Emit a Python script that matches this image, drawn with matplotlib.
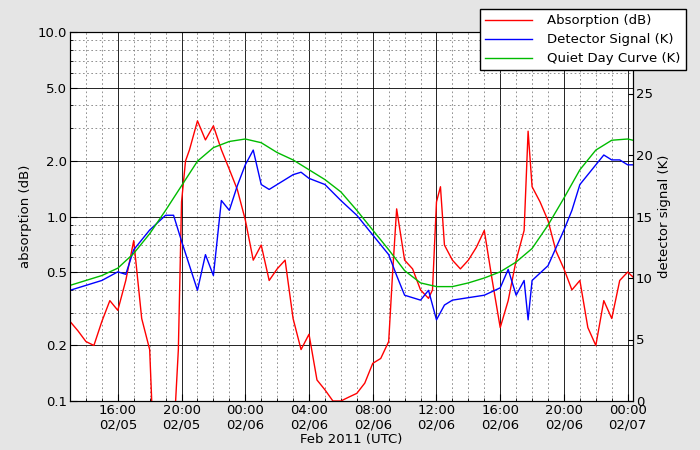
import matplotlib
matplotlib.use("Agg")
import matplotlib.pyplot as plt
import matplotlib.dates as mdates
from matplotlib.ticker import FixedLocator, FixedFormatter, NullFormatter
import numpy as np
import pandas as pd

plt.rcParams["font.size"] = 9.5

# hours since 2011-02-05 00:00
abs_hours = [13, 13.5, 14, 14.5, 15, 15.5, 16, 16.5, 17, 17.5, 18, 18.15, 19.6, 19.8, 20, 20.25, 20.5, 21, 21.5, 22, 22.5, 23, 23.5,
             24, 24.5, 25, 25.5, 26, 26.5, 27, 27.5, 28, 28.5, 29, 29.5, 30, 30.5, 31, 31.5, 32, 32.5, 33, 33.25, 33.5,
             34, 34.5, 35, 35.5, 35.75, 36, 36.25, 36.5, 37, 37.5, 38, 38.5, 39, 39.5, 40, 40.5, 41, 41.5, 41.75,
             42, 42.5, 43, 43.5, 44, 44.5, 45, 45.5, 46, 46.5, 47, 47.5, 48, 48.33]
abs_db = [0.27, 0.24, 0.21, 0.2, 0.27, 0.35, 0.31, 0.45, 0.74, 0.28, 0.19, 0.09, 0.09, 0.19, 1.2, 2.0, 2.3, 3.3, 2.6, 3.1, 2.3, 1.8, 1.4,
          0.96, 0.58, 0.7, 0.45, 0.52, 0.58, 0.28, 0.19, 0.23, 0.13, 0.115, 0.1, 0.1, 0.105, 0.11, 0.125, 0.16, 0.17, 0.21, 0.5,
          1.1, 0.58, 0.52, 0.4, 0.36, 0.4, 1.2, 1.45, 0.7, 0.58, 0.52, 0.58, 0.68, 0.84, 0.45, 0.25, 0.35, 0.58, 0.84, 2.9,
          1.45, 1.2, 0.95, 0.65, 0.52, 0.4, 0.45, 0.25, 0.2, 0.35, 0.28, 0.45, 0.5, 0.47]

sig_hours = [13, 14, 15, 16, 16.5, 17, 18, 19, 19.5, 20, 21, 21.5, 22, 22.5, 23, 23.5, 24, 24.5, 25, 25.5, 26, 27, 27.5, 28,
             29, 30, 31, 32, 33, 33.5, 34, 35, 35.5, 36, 36.5, 37, 38, 39, 40, 40.5, 41, 41.5, 41.75, 42, 43, 44, 44.5,
             45, 46, 46.5, 47, 47.5, 48, 48.33]
sig_k = [9.0, 9.4, 9.8, 10.5, 10.3, 12.3, 13.9, 15.1, 15.1, 13.0, 9.0, 11.9, 10.2, 16.3, 15.5, 17.5, 19.2, 20.4, 17.6, 17.2, 17.6,
         18.4, 18.6, 18.1, 17.6, 16.3, 15.1, 13.5, 11.9, 10.2, 8.6, 8.2, 9.0, 6.6, 7.8, 8.2, 8.4, 8.6, 9.2, 10.7, 8.6, 9.8, 6.6,
         9.8, 11.0, 13.9, 15.5, 17.6, 19.2, 20.0, 19.6, 19.6, 19.2, 19.2]

qdc_hours = list(range(13, 49)) + [48.33]
qdc_k = [9.4, 9.8, 10.2, 10.8, 12.0, 13.6, 15.5, 17.5, 19.5, 20.6, 21.1, 21.3, 21.0, 20.2, 19.6, 18.8, 18.0, 17.0, 15.5,
         13.9, 12.3, 10.6, 9.6, 9.3, 9.3, 9.6, 10.0, 10.5, 11.3, 12.4, 14.3, 16.5, 18.8, 20.4, 21.2, 21.3, 21.2]

base = pd.Timestamp("2011-02-05 00:00")
def to_t(h):
    return [base + pd.Timedelta(hours=x) for x in h]

fig = plt.figure(figsize=(7, 4.5), dpi=100, facecolor="#e5e5e5")
ax = fig.add_axes([70/700, 1-401/450, 563/700, 369/450])
ax2 = ax.twinx()

l1, = ax.plot(to_t(abs_hours), abs_db, color="red", lw=1, label="Absorption (dB)")
l2, = ax2.plot(to_t(sig_hours), sig_k, color="blue", lw=1, label="Detector Signal (K)")
l3, = ax2.plot(to_t(qdc_hours), qdc_k, color="#00bb00", lw=1, label="Quiet Day Curve (K)")

ax.set_yscale("log")
ax.set_ylim(0.1, 10)
maj = [0.1, 0.2, 0.5, 1.0, 2.0, 5.0, 10.0]
ax.yaxis.set_major_locator(FixedLocator(maj))
ax.yaxis.set_major_formatter(FixedFormatter(["%.1f" % v for v in maj]))
mins = [v for d in (0.1, 1) for v in np.arange(2, 10) * d if round(v, 3) not in (0.2, 0.5, 2.0, 5.0)]
ax.yaxis.set_minor_locator(FixedLocator(mins))
ax.yaxis.set_minor_formatter(NullFormatter())
ax.set_ylabel("absorption (dB)", labelpad=4)

ax.set_xlim(base + pd.Timedelta(hours=13), base + pd.Timedelta(hours=48, minutes=20))
ax.xaxis.set_major_locator(mdates.HourLocator(byhour=[0, 4, 8, 12, 16, 20]))
ax.xaxis.set_minor_locator(mdates.HourLocator())
ax.xaxis.set_major_formatter(mdates.DateFormatter("%H:%M\n%m/%d"))
ax.set_xlabel("Feb 2011 (UTC)", labelpad=1)

ax.grid(True, which="major", color="black", lw=0.6, ls="-")
ax.grid(True, which="minor", color="gray", lw=0.6, ls=(0, (2, 3)))

ax2.set_ylim(0, 30)
ax2.set_yticks([0, 5, 10, 15, 20, 25])
ax2.set_ylabel("detector signal (K)", labelpad=4)

for a in (ax, ax2):
    a.tick_params(direction="in", which="both", pad=2)
ax.tick_params(which="major", length=5)
ax.tick_params(which="minor", length=2)

fig.legend(handles=[l1, l2, l3], loc="upper right", bbox_to_anchor=(686/700, 1-9/450),
           fancybox=False, edgecolor="black", framealpha=1, borderaxespad=0, handlelength=3.5, handletextpad=1.2,
           labelspacing=0.45)

fig.savefig("out.png", dpi=100, facecolor=fig.get_facecolor())
